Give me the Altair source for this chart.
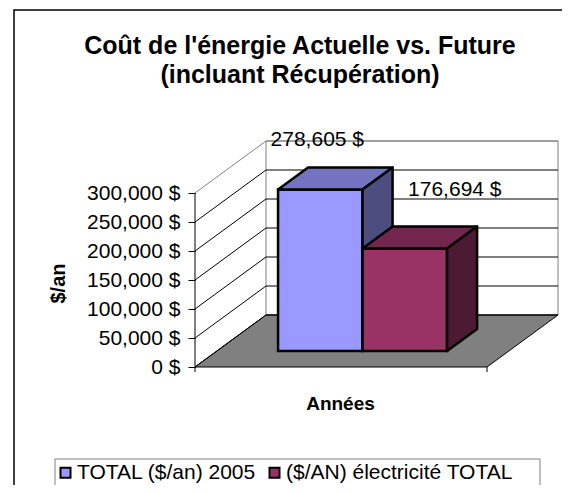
import altair as alt
import pandas as pd

# ---------------- data ----------------
title_lines = ["Coût de l'énergie Actuelle vs. Future", "(incluant Récupération)"]
series = ["TOTAL ($/an) 2005", "($/AN) électricité TOTAL"]
values = [278605, 176694]
y_ticks = [0, 50000, 100000, 150000, 200000, 250000, 300000]
front_colors = ["#9999FF", "#993366"]
top_colors = ["#7373BF", "#73264D"]
side_colors = ["#4D4D80", "#4D1A33"]

# ---------------- layout (pixels) ----------------
PLOT_W, PLOT_H = 365, 226
PX_PER_USD = 174 / 300000
YMAX = PLOT_H / PX_PER_USD
DEPTH_X = 71
DEPTH_Y = 52 / PX_PER_USD
FLOOR_W = 292
BAR_F1 = 16 / 52           # depth fraction of bar front face
BAR_FD = 22 / 52           # depth fraction of bar thickness
BAR_GAP = 61.2
BAR_W = 84.5
LABEL_DX = [-3, 50]
LABEL_DY = [49, 59]
FONT = "Liberation Sans"

xs = alt.Scale(domain=[0, PLOT_W], nice=False, zero=False)
ys = alt.Scale(domain=[0, YMAX], nice=False, zero=False)
x_axis = alt.Axis(labels=False, ticks=False, domain=False, grid=False, title="Années",
                  titleFont=FONT, titleFontSize=19, titleFontWeight="bold", titleColor="black",
                  titleX=145, titleY=36, titleBaseline="middle", titleAlign="center", zindex=2)
y_axis = alt.Axis(values=y_ticks, domain=False, grid=False, tickSize=7, tickColor="black",
                  labelPadding=8, labelFont=FONT, labelFontSize=21, labelColor="black",
                  labelExpr="format(datum.value, ',') + ' $'",
                  title="$/an", titleFont=FONT, titleFontSize=20, titleFontWeight="bold",
                  titleColor="black", titleX=-137, titleY=142, titleAlign="center",
                  titleBaseline="middle", titleAngle=270, zindex=2)


def X(f):
    return alt.X(f, type="quantitative", scale=xs, axis=x_axis)


def Y(f):
    return alt.Y(f, type="quantitative", scale=ys, axis=y_axis)


base_y = BAR_F1 * DEPTH_Y
fx = BAR_F1 * DEPTH_X
ddx = BAR_FD * DEPTH_X
ddy = BAR_FD * DEPTH_Y

layers = []

# outer frame
one = pd.DataFrame({"a": [0]})
layers.append(alt.Chart(one).mark_rect(fill=None, stroke="black", strokeWidth=1.5).encode(
    x=alt.value(-181), x2=alt.value(420), y=alt.value(-131), y2=alt.value(420)))

# chart title
layers.append(alt.Chart(one).mark_text(text=title_lines, font=FONT, fontSize=25, fontWeight="bold",
                                        color="black", align="center", baseline="alphabetic",
                                        lineHeight=29).encode(
    x=alt.value(105), y=alt.value(-87)))

# side wall
side_wall = pd.DataFrame({"x": [0, DEPTH_X], "y": [0, DEPTH_Y], "y2": [300000, 300000 + DEPTH_Y]})
layers.append(alt.Chart(side_wall).mark_area(orient="vertical", fill="white").encode(
    x=X("x"), y=Y("y"), y2="y2"))

# back wall
back_wall = pd.DataFrame({"x": [DEPTH_X], "x2": [DEPTH_X + FLOOR_W], "y": [DEPTH_Y], "y2": [DEPTH_Y + 300000]})
layers.append(alt.Chart(back_wall).mark_rect(fill="white", stroke="#808080", strokeWidth=1).encode(
    x=X("x"), x2="x2", y=Y("y"), y2="y2"))

# floor
floor = pd.DataFrame({"y": [0, DEPTH_Y], "x": [0, DEPTH_X], "x2": [FLOOR_W, FLOOR_W + DEPTH_X]})
layers.append(alt.Chart(floor).mark_area(orient="horizontal", fill="#808080", stroke="black",
                                          strokeWidth=1).encode(
    y=Y("y"), x=X("x"), x2="x2"))

# gridlines
grid_rows = []
for v in y_ticks:
    col = "#808080" if v == max(y_ticks) else "black"
    grid_rows.append({"x": DEPTH_X, "x2": DEPTH_X + FLOOR_W, "y": v + DEPTH_Y, "y2": v + DEPTH_Y, "c": col})
    grid_rows.append({"x": 0, "x2": DEPTH_X, "y": v, "y2": v + DEPTH_Y, "c": col})
grid = pd.DataFrame(grid_rows)
layers.append(alt.Chart(grid).mark_rule(strokeWidth=1).encode(
    x=X("x"), x2="x2", y=Y("y"), y2="y2", color=alt.Color("c:N", scale=None)))

# front axis line and floor ticks
axis_line = pd.DataFrame({"x": [0], "y": [0], "y2": [max(y_ticks)]})
layers.append(alt.Chart(axis_line).mark_rule(color="black", strokeWidth=1).encode(
    x=X("x"), y=Y("y"), y2="y2"))
floor_ticks = pd.DataFrame({"x": [0, FLOOR_W], "y": [0, 0], "y2": [-5 / PX_PER_USD] * 2})
layers.append(alt.Chart(floor_ticks).mark_rule(color="black", strokeWidth=1).encode(
    x=X("x"), y=Y("y"), y2="y2"))

# bars
for i, (s, v) in enumerate(zip(series, values)):
    xl = fx + BAR_GAP + i * BAR_W
    xr = xl + BAR_W
    front = pd.DataFrame({"series": [s], "x": [xl], "x2": [xr], "y": [base_y], "y2": [base_y + v]})
    layers.append(alt.Chart(front).mark_rect(stroke="black", strokeWidth=2.5).encode(
        x=X("x"), x2="x2", y=Y("y"), y2="y2",
        fill=alt.Fill("series:N", scale=alt.Scale(domain=series, range=front_colors),
                      sort=series,
                      legend=alt.Legend(title=None, orient="none", direction="horizontal",
                                        legendX=-140, legendY=321, symbolType="square",
                                        symbolSize=100, symbolStrokeColor="black",
                                        symbolStrokeWidth=2, labelFont=FONT,
                                        labelFontSize=21, labelColor="black", labelOffset=1,
                                        labelLimit=0, columnPadding=8, padding=0,
                                        symbolOpacity=1, zindex=2))))
    top = pd.DataFrame({"y": [base_y + v, base_y + v + ddy], "x": [xl, xl + ddx],
                        "x2": [xr, xr + ddx]})
    layers.append(alt.Chart(top).mark_area(orient="horizontal", fill=top_colors[i], stroke="black",
                                            strokeWidth=2.5, strokeJoin="round").encode(
        y=Y("y"), x=X("x"), x2="x2"))
    side = pd.DataFrame({"x": [xr, xr + ddx], "y": [base_y, base_y + ddy],
                         "y2": [base_y + v, base_y + v + ddy]})
    layers.append(alt.Chart(side).mark_area(orient="vertical", fill=side_colors[i], stroke="black",
                                             strokeWidth=2.5, strokeJoin="round").encode(
        x=X("x"), y=Y("y"), y2="y2"))

# data labels
lab = pd.DataFrame({
    "x": [fx + BAR_GAP + (i + 0.5) * BAR_W + LABEL_DX[i] for i in range(len(values))],
    "y": [base_y + values[i] + LABEL_DY[i] / PX_PER_USD for i in range(len(values))],
    "v": values,
})
layers.append(alt.Chart(lab).transform_calculate(
    t="format(datum.v, ',') + ' $'").mark_text(font=FONT, fontSize=21, color="black",
                                               align="center", baseline="middle").encode(
    x=X("x"), y=Y("y"), text="t:N"))

# legend frame
layers.append(alt.Chart(one).mark_rect(fill=None, stroke="#808080", strokeWidth=1).encode(
    x=alt.value(-140), x2=alt.value(345), y=alt.value(318), y2=alt.value(420)))

chart = alt.layer(*layers).properties(
    width=PLOT_W, height=PLOT_H,
    autosize=alt.AutoSizeParams(type="none"),
    padding={"left": 187, "top": 133, "right": 2, "bottom": 118},
    background="white",
).configure_view(stroke=None)

chart.save("out.html", embed_options={"renderer": "svg", "actions": False})
